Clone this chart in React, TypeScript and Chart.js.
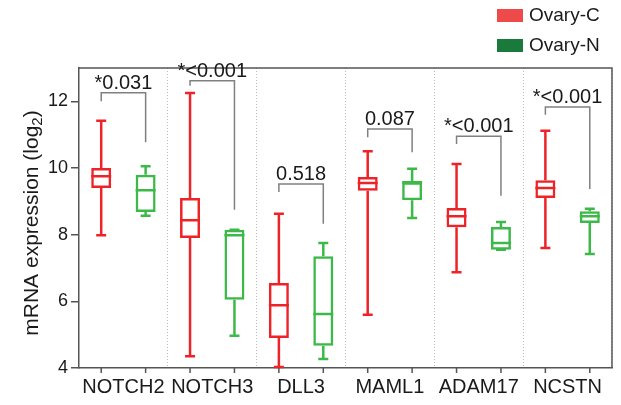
import { useEffect, useRef } from 'react';
import { Chart, registerables } from 'chart.js';
Chart.register(...registerables);

const genes = ['NOTCH2', 'NOTCH3', 'DLL3', 'MAML1', 'ADAM17', 'NCSTN'];
const seriesNames = ['Ovary-C', 'Ovary-N'];
// Ovary-C box stats
const cMin = [7.98, 4.35, 4.03, 5.6, 6.87, 7.6];
const cQ1 = [9.4, 7.9, 4.9, 9.32, 8.22, 9.1];
const cMed = [9.75, 8.43, 5.88, 9.55, 8.55, 9.4];
const cQ3 = [10.0, 9.1, 6.55, 9.73, 8.8, 9.63];
const cMax = [11.42, 12.25, 8.63, 10.5, 10.12, 11.12];
// Ovary-N box stats
const nMin = [8.57, 4.97, 4.27, 8.5, 7.55, 7.42];
const nQ1 = [8.68, 6.05, 4.67, 9.03, 7.55, 8.35];
const nMed = [9.33, 7.98, 5.62, 9.57, 7.75, 8.55];
const nQ3 = [9.8, 8.15, 7.35, 9.57, 8.23, 8.7];
const nMax = [10.05, 8.15, 7.75, 9.98, 8.38, 8.78];
// p-value brackets
const pLabels = ['*0.031', '*<0.001', '0.518', '0.087', '*<0.001', '*<0.001'];
const bracketTop = [12.26, 12.62, 9.52, 11.17, 10.95, 11.83];
const bracketLeftEnd = [12.0, 12.47, 9.28, 10.92, 10.72, 11.6];
const bracketRightEnd = [10.77, 8.75, 8.33, 10.47, 9.17, 9.37];
const yMin = 4;
const yMax = 13;
const yStep = 2;

const FONT = 'Liberation Sans, Arial, Helvetica, sans-serif';
const boxColors = ['#ee2328', '#3db94a'];
const legendColors = ['#ef4a4a', '#1a7a3c'];
const stats = [
  { min: cMin, q1: cQ1, med: cMed, q3: cQ3, max: cMax },
  { min: nMin, q1: nQ1, med: nMed, q3: nQ3, max: nMax },
];
const frameColor = '#555';

const boxPlugin = {
  id: 'boxExtras',
  afterDraw(chart: any) {
    const { ctx, chartArea, scales } = chart;
    const y = scales.y;
    ctx.save();
    // top & right frame
    ctx.strokeStyle = frameColor;
    ctx.lineWidth = 1.5;
    ctx.beginPath();
    ctx.moveTo(chartArea.left, chartArea.top);
    ctx.lineTo(chartArea.right, chartArea.top);
    ctx.lineTo(chartArea.right, chartArea.bottom);
    ctx.stroke();

    // whiskers, caps, medians and x ticks
    stats.forEach((s, d) => {
      const meta = chart.getDatasetMeta(d);
      meta.data.forEach((el: any, i: number) => {
        const x = el.x;
        const w = el.width;
        ctx.strokeStyle = boxColors[d];
        ctx.lineWidth = 2.5;
        ctx.beginPath();
        ctx.moveTo(x, y.getPixelForValue(s.q3[i]));
        ctx.lineTo(x, y.getPixelForValue(s.max[i]));
        ctx.moveTo(x, y.getPixelForValue(s.q1[i]));
        ctx.lineTo(x, y.getPixelForValue(s.min[i]));
        ctx.moveTo(x - 5, y.getPixelForValue(s.max[i]));
        ctx.lineTo(x + 5, y.getPixelForValue(s.max[i]));
        ctx.moveTo(x - 5, y.getPixelForValue(s.min[i]));
        ctx.lineTo(x + 5, y.getPixelForValue(s.min[i]));
        ctx.moveTo(x - w / 2, y.getPixelForValue(s.med[i]));
        ctx.lineTo(x + w / 2, y.getPixelForValue(s.med[i]));
        ctx.stroke();
        // x tick mark
        ctx.strokeStyle = frameColor;
        ctx.lineWidth = 1.5;
        ctx.beginPath();
        ctx.moveTo(x, chartArea.bottom);
        ctx.lineTo(x, chartArea.bottom + 5);
        ctx.stroke();
      });
    });

    // brackets + p labels
    const m0 = chart.getDatasetMeta(0);
    const m1 = chart.getDatasetMeta(1);
    genes.forEach((g, i) => {
      const xL = m0.data[i].x;
      const xR = m1.data[i].x;
      const yT = y.getPixelForValue(bracketTop[i]);
      ctx.strokeStyle = '#808080';
      ctx.lineWidth = 1.5;
      ctx.beginPath();
      ctx.moveTo(xL, y.getPixelForValue(bracketLeftEnd[i]));
      ctx.lineTo(xL, yT);
      ctx.lineTo(xR, yT);
      ctx.lineTo(xR, y.getPixelForValue(bracketRightEnd[i]));
      ctx.stroke();
      ctx.fillStyle = '#1a1a1a';
      ctx.font = `20px ${FONT}`;
      ctx.textAlign = 'center';
      ctx.textBaseline = 'alphabetic';
      ctx.fillText(pLabels[i], (xL + xR) / 2, yT - 4);
    });

    // y-axis title with subscript
    ctx.save();
    ctx.translate(32, (chartArea.top + chartArea.bottom) / 2 + 5);
    ctx.rotate(-Math.PI / 2);
    ctx.fillStyle = '#1a1a1a';
    ctx.textBaseline = 'middle';
    const main = 'mRNA expression (log';
    const sub = '2';
    const close = ')';
    ctx.font = `21px ${FONT}`;
    const wMain = ctx.measureText(main).width;
    const wClose = ctx.measureText(close).width;
    ctx.font = `15px ${FONT}`;
    const wSub = ctx.measureText(sub).width;
    const total = wMain + wSub + wClose;
    let cx = -total / 2;
    ctx.textAlign = 'left';
    ctx.font = `21px ${FONT}`;
    ctx.fillText(main, cx, 0);
    cx += wMain;
    ctx.font = `15px ${FONT}`;
    ctx.fillText(sub, cx, 6);
    cx += wSub;
    ctx.font = `21px ${FONT}`;
    ctx.fillText(close, cx, 0);
    ctx.restore();

    // legend
    seriesNames.forEach((name, d) => {
      const top = 9 + d * 30;
      ctx.fillStyle = legendColors[d];
      ctx.fillRect(497, top, 26, 13);
      ctx.fillStyle = '#1a1a1a';
      ctx.font = `19px ${FONT}`;
      ctx.textAlign = 'left';
      ctx.textBaseline = 'middle';
      ctx.fillText(name, 529, top + 7);
    });
    ctx.restore();
  },
};

export default function App() {
  const ref = useRef<HTMLCanvasElement | null>(null);
  useEffect(() => {
    document.body.style.margin = '0';
    if (!ref.current) return;
    Chart.defaults.font.family = FONT;
    const chart = new Chart(ref.current, {
      type: 'bar',
      data: {
        labels: genes,
        datasets: stats.map((s, d) => ({
          label: seriesNames[d],
          data: s.q1.map((q, i) => [q, s.q3[i]]) as any,
          backgroundColor: 'rgba(255,255,255,0)',
          borderColor: boxColors[d],
          borderWidth: 2.5,
          borderSkipped: false,
          barPercentage: 0.45,
          categoryPercentage: 1.0,
        })),
      },
      options: {
        responsive: false,
        animation: false,
        devicePixelRatio: 1,
        layout: { padding: { top: 68, right: 9, left: 0, bottom: 0 } },
        plugins: { legend: { display: false }, tooltip: { enabled: false } },
        scales: {
          x: {
            type: 'category',
            offset: true,
            grid: { offset: true, color: '#bbbbbb', lineWidth: 1, drawTicks: false },
            border: { display: true, color: frameColor, width: 1.5, dash: [1, 2] },
            ticks: { color: '#1a1a1a', font: { size: 20 }, padding: 7 },
            afterFit: (s: any) => { s.height = 37; },
          },
          y: {
            type: 'linear',
            min: yMin,
            max: yMax,
            grid: { drawOnChartArea: false, tickLength: 8, color: frameColor, lineWidth: 1.5 },
            border: { display: true, color: frameColor, width: 1.5 },
            ticks: { stepSize: yStep, includeBounds: false, color: '#1a1a1a', font: { size: 18 }, padding: 3 },
            afterFit: (s: any) => { s.width = 79; },
          },
        },
      },
      plugins: [boxPlugin],
    });
    return () => chart.destroy();
  }, []);
  return (
    <div style={{ width: 621, height: 405 }}>
      <canvas ref={ref} width={621} height={405} />
    </div>
  );
}
